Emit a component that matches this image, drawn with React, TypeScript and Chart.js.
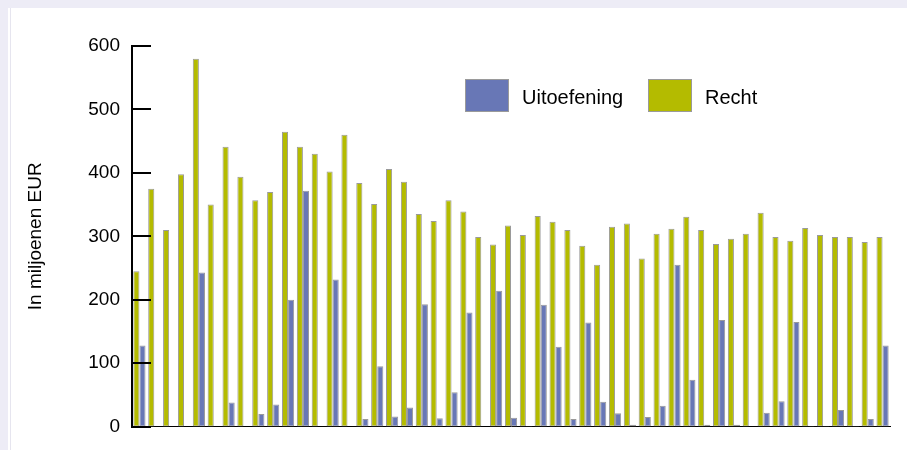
import React, { useEffect, useRef } from "react";
import { Chart, registerables } from "chart.js";

Chart.register(...registerables);

const categories = [
  "1", "2", "3", "4", "5", "6", "7", "8", "9", "10",
  "11", "12", "13", "14", "15", "16", "17", "18", "19", "20",
  "21", "22", "23", "24", "25", "26", "27", "28", "29", "30",
  "31", "32", "33", "34", "35", "36", "37", "38", "39", "40",
  "41", "42", "43", "44", "45", "46", "47", "48", "49", "50",
  "51",
];

const recht = [
  245, 375, 310, 398, 580, 350, 441, 394, 357, 370,
  465, 441, 430, 402, 460, 384, 351, 406, 386, 335,
  324, 357, 339, 299, 287, 317, 302, 332, 323, 310,
  285, 255, 315, 320, 265, 304, 312, 331, 310, 288,
  296, 304, 337, 299, 293, 313, 302, 299, 299, 291,
  299,
];

const uitoefening = [
  128, 0, 0, 0, 243, 0, 38, 0, 20, 35,
  200, 372, 0, 232, 0, 12, 95, 16, 30, 193,
  13, 54, 180, 0, 214, 14, 1, 192, 126, 12,
  164, 39, 21, 3, 15, 33, 255, 74, 3, 168,
  3, 0, 22, 40, 165, 1, 1, 26, 1, 12,
  128,
];

const yTickValues = [0, 100, 200, 300, 400, 500, 600];

const labelUitoefening = "Uitoefening";
const labelRecht = "Recht";
const colorUitoefening = "#6877b6";
const colorRecht = "#b4bb00";
const barBorder = "#9a9a9a";

const FONT = "'Liberation Sans', Arial, Helvetica, sans-serif";

export default function App() {
  const ref = useRef<HTMLCanvasElement | null>(null);

  useEffect(() => {
    if (!ref.current) return;

    const inwardTicks = {
      id: "inwardTicks",
      afterDatasetsDraw(chart: any) {
        const y = chart.scales.y;
        const ctx = chart.ctx;
        const left = chart.chartArea.left;
        ctx.save();
        ctx.strokeStyle = "#000";
        ctx.lineWidth = 2;
        y.ticks.forEach((t: any) => {
          const py = Math.round(y.getPixelForValue(t.value));
          ctx.beginPath();
          ctx.moveTo(left - 1, py);
          ctx.lineTo(left + 19, py);
          ctx.stroke();
        });
        ctx.restore();
      },
    };

    const customLegend = {
      id: "customLegend",
      afterDraw(chart: any) {
        const ctx = chart.ctx;
        const byLabel: Record<string, any> = {};
        chart.data.datasets.forEach((d: any) => (byLabel[d.label] = d));
        const items = [
          { ds: byLabel[labelUitoefening], x: 465 },
          { ds: byLabel[labelRecht], x: 648 },
        ];
        ctx.save();
        ctx.font = `20px ${FONT}`;
        ctx.textBaseline = "alphabetic";
        ctx.textAlign = "left";
        items.forEach(({ ds, x }) => {
          ctx.fillStyle = ds.backgroundColor;
          ctx.fillRect(x, 79, 44, 33);
          ctx.strokeStyle = barBorder;
          ctx.lineWidth = 1;
          ctx.strokeRect(x + 0.5, 79.5, 43, 32);
          ctx.fillStyle = "#000";
          ctx.fillText(ds.label, x + 57, 104);
        });
        ctx.restore();
      },
    };

    const chart = new Chart(ref.current, {
      type: "bar",
      data: {
        labels: categories,
        datasets: [
          {
            label: labelRecht,
            data: recht,
            backgroundColor: colorRecht,
            borderColor: barBorder,
            borderWidth: 1,
            borderSkipped: false,
            categoryPercentage: 0.82,
            barPercentage: 1,
          },
          {
            label: labelUitoefening,
            data: uitoefening,
            backgroundColor: colorUitoefening,
            borderColor: barBorder,
            borderWidth: 1,
            borderSkipped: false,
            categoryPercentage: 0.82,
            barPercentage: 1,
          },
        ],
      },
      options: {
        responsive: false,
        animation: false,
        layout: { padding: { left: 0, top: 46, right: 17, bottom: 23 } },
        plugins: {
          legend: { display: false },
          tooltip: { enabled: false },
        },
        scales: {
          x: {
            grid: { display: false, drawTicks: false },
            ticks: { display: false },
            border: { display: true, color: "#000", width: 1 },
            afterFit(s: any) {
              s.height = 0;
            },
          },
          y: {
            min: 0,
            max: 600,
            afterBuildTicks(s: any) {
              s.ticks = yTickValues.map((v) => ({ value: v }));
            },
            ticks: {
              font: { family: FONT, size: 19 },
              color: "#000",
              padding: 12,
            },
            grid: { display: false, drawTicks: false },
            border: { display: true, color: "#000", width: 2 },
            title: {
              display: true,
              text: "In miljoenen EUR",
              font: { family: FONT, size: 19 },
              color: "#000",
              padding: { top: 24, bottom: 0 },
            },
            afterFit(s: any) {
              s.width = 132;
            },
          },
        },
      },
      plugins: [inwardTicks, customLegend],
    } as any);

    return () => chart.destroy();
  }, []);

  return (
    <div
      style={{
        position: "fixed",
        left: 0,
        top: 0,
        width: 907,
        height: 450,
        background: "#edecf6",
        overflow: "hidden",
      }}
    >
      <div
        style={{
          position: "absolute",
          left: 8,
          top: 8,
          right: 0,
          bottom: 0,
          background: "#ffffff",
        }}
      />
      <div
        style={{
          position: "absolute",
          left: 10,
          top: 8,
          width: 1,
          bottom: 0,
          background: "#e6e5ef",
        }}
      />
      <canvas
        ref={ref}
        width={907}
        height={450}
        style={{ position: "absolute", left: 0, top: 0, width: 907, height: 450 }}
      />
    </div>
  );
}
